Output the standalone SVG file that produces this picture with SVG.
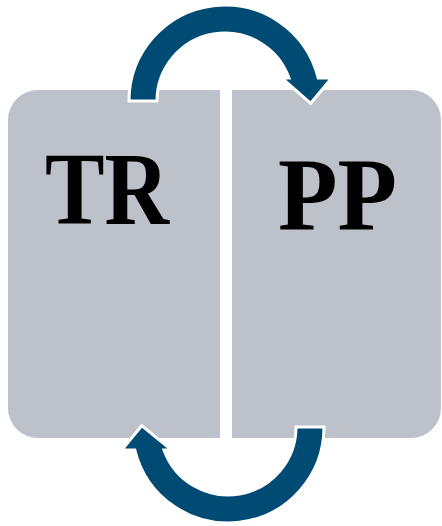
<svg xmlns="http://www.w3.org/2000/svg" width="442" height="526" viewBox="0 0 442 526">
  <style>
    .panel { fill: #BDC1C9; }
    .label { font-family: "Liberation Serif", "Times New Roman", serif; font-weight: bold; font-size: 104px; fill: #000; }
    .arrow { fill: #004B74; stroke: #FFFFFF; stroke-width: 3; stroke-linejoin: miter; }
  </style>
  <rect width="442" height="526" fill="#FFFFFF"/>

  <!-- left panel: rounded on its outer corners only -->
  <g id="node-tr">
    <path class="panel" d="M220,90 L38,90 A30,30 0 0 0 8,120 L8,408 A30,30 0 0 0 38,438 L220,438 Z"/>
    <text class="label" x="45" y="224" textLength="124" lengthAdjust="spacingAndGlyphs">TR</text>
  </g>

  <!-- right panel -->
  <g id="node-pp">
    <path class="panel" d="M232,90 L411,90 A30,30 0 0 1 441,120 L441,408 A30,30 0 0 1 411,438 L232,438 Z"/>
    <text class="label" x="278" y="230" textLength="119" lengthAdjust="spacingAndGlyphs">PP</text>
  </g>

  <g id="connectors">
    <!-- top: TR over to PP -->
    <path class="arrow" d="M129,101 A96,96 0 0 1 318.2,78 L331.7,78 L310.7,103.3 L281.7,78 L289,78 A68,68 0 0 0 157,101 Z"/>
    <!-- bottom: PP back to TR -->
    <path class="arrow" d="M324,427 A96,96 0 0 1 134.8,450 L121.7,450 L141.7,425.7 L171.7,450 L164,450 A68,68 0 0 0 296,427 Z"/>
  </g>
</svg>
